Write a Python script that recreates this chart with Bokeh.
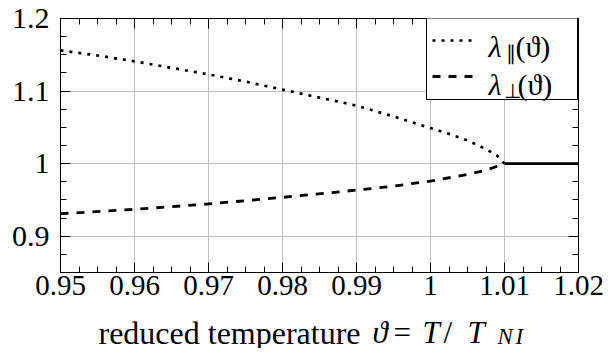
from bokeh.plotting import figure
from bokeh.layouts import column
from bokeh.models import (LinearAxis, FixedTicker, NumeralTickFormatter, Range1d,
                          Label, BoxAnnotation, Arrow)
from bokeh.core.properties import value
from bokeh.embed import file_html
from bokeh.resources import INLINE

# ---- data ----
theta_par = [0.95, 0.955, 0.96, 0.965, 0.97, 0.975, 0.98, 0.985, 0.99, 0.995,
             1.0, 1.0025, 1.005, 1.0075, 1.009, 1.01]
lam_par = [1.156, 1.149, 1.141, 1.132, 1.123, 1.113, 1.102, 1.091, 1.080, 1.065,
           1.049, 1.041, 1.032, 1.020, 1.011, 1.000]

theta_perp = [0.95, 0.96, 0.97, 0.98, 0.99, 0.995, 1.0, 1.005, 1.0075, 1.01]
lam_perp = [0.931, 0.937, 0.9445, 0.9535, 0.9635, 0.969, 0.976, 0.985, 0.991, 1.000]

theta_iso = [1.01, 1.02]
lam_iso = [1.0, 1.0]

x_major = [0.95, 0.96, 0.97, 0.98, 0.99, 1.0, 1.01, 1.02]
x_minor = [round(0.95 + 0.0025 * i, 4) for i in range(29)]
y_major = [0.9, 1.0, 1.1, 1.2]
y_minor = [round(0.85 + 0.025 * i, 3) for i in range(15)]

legend_labels = [("λ", "∥", "(ϑ)"), ("λ", "⊥", "(ϑ)")]
title_parts = ["reduced temperature", "ϑ", "=", "T", "/", "T", "N", "I"]

FONT = "Times New Roman"

p = figure(width=608, height=310, output_backend="svg", toolbar_location=None,
           x_range=Range1d(0.95, 1.02), y_range=Range1d(0.85, 1.2),
           min_border_left=60, min_border_right=30, min_border_top=18,
           min_border_bottom=38)
p.outline_line_color = "black"
p.outline_line_width = 1
p.background_fill_color = "white"
p.border_fill_color = "white"

xt = FixedTicker(ticks=x_major, minor_ticks=x_minor)
yt = FixedTicker(ticks=y_major, minor_ticks=y_minor)


def style_axis(ax, font=None, size="30px"):
    ax.axis_line_color = "black"
    ax.major_tick_line_color = "black"
    ax.minor_tick_line_color = "black"
    ax.major_tick_in = 10
    ax.major_tick_out = 0
    ax.minor_tick_in = 6
    ax.minor_tick_out = 0
    ax.axis_label = None
    if font is not None:
        ax.major_label_text_font = font
        ax.major_label_text_font_size = size
        ax.major_label_text_color = "black"
    else:
        ax.major_label_text_color = None
        ax.major_label_text_alpha = 0
        ax.major_label_text_font_size = "1px"
        ax.major_label_standoff = 0


bottom_ax = p.below[0]
left_ax = p.left[0]
bottom_ax.ticker = xt
left_ax.ticker = yt
bottom_ax.formatter = NumeralTickFormatter(format="0.[00]")
left_ax.formatter = NumeralTickFormatter(format="0.[0]")
style_axis(bottom_ax, FONT, "29px")
style_axis(left_ax, FONT, "30px")
bottom_ax.major_label_standoff = 3
left_ax.major_label_standoff = 11

top = LinearAxis(ticker=xt)
right = LinearAxis(ticker=yt)
style_axis(top)
style_axis(right)
p.add_layout(top, "above")
p.add_layout(right, "right")

p.xgrid.ticker = xt
p.ygrid.ticker = yt
for g in (p.xgrid[0], p.ygrid[0]):
    g.grid_line_color = "#bfbfbf"
    g.grid_line_width = 1

p.line(theta_par, lam_par, line_color="black", line_width=2.7,
       line_dash="3 6", line_cap="butt")
p.line(theta_perp, lam_perp, line_color="black", line_width=2.8,
       line_dash="8 8", line_cap="butt")
p.line(theta_iso, lam_iso, line_color="black", line_width=2.8)

# ---- legend (screen units relative to the frame: x from left, y from bottom) ----
p.add_layout(BoxAnnotation(left=366, right=517, bottom=173, top=258,
                           left_units="screen", right_units="screen",
                           bottom_units="screen", top_units="screen",
                           fill_color="white", fill_alpha=1.0,
                           line_color="black", line_width=1, line_alpha=1.0))
p.add_layout(Arrow(x_start=372, y_start=232, x_end=417, y_end=232,
                   start_units="screen", end_units="screen", end=None,
                   line_color="black", line_width=2.7, line_dash="3 6",
                   line_cap="butt"))
p.add_layout(Arrow(x_start=372, y_start=196, x_end=417, y_end=196,
                   start_units="screen", end_units="screen", end=None,
                   line_color="black", line_width=2.8, line_dash="8 8",
                   line_cap="butt"))


def lab(text, x, y, size="30px", style="normal"):
    p.add_layout(Label(x=x, y=y, x_units="screen", y_units="screen", text=text,
                       text_font=FONT, text_font_size=size,
                       text_font_style=style, text_color="black",
                       text_baseline="alphabetic", text_align="left"))


(l1, s1, a1), (l2, s2, a2) = legend_labels
lab(l1, 428, 226, style="italic")
lab(s1, 445, 220, size="20px")
lab(a1, 455, 226)
lab(l2, 428, 188, style="italic")
lab(s2, 443, 182, size="20px")
lab(a2, 457, 188)

# ---- x axis title as a strip below the plot (frame aligned with the plot) ----
p2 = figure(width=608, height=38, output_backend="svg", toolbar_location=None,
            x_range=Range1d(60, 578), y_range=Range1d(0, 38),
            x_axis_type=None, y_axis_type=None,
            min_border_left=60, min_border_right=30, min_border_top=0,
            min_border_bottom=0)
try:
    p2.title = None
except Exception:
    p2.title.text_font_size = "0px"
    p2.title.standoff = 0
    p2.title.offset = 0
p2.outline_line_color = None
p2.background_fill_color = "white"
p2.border_fill_color = "white"

tx = [98, 372, 393, 422, 443, 467, 497, 515]
ty = [16, 16, 16, 16, 16, 16, 12, 12]
sizes = ["32px", "31px", "31px", "31px", "31px", "31px", "23px", "23px"]
styles = ["normal", "italic", "normal", "italic", "normal", "italic", "italic", "italic"]
for t, x, y, s, st in zip(title_parts, tx, ty, sizes, styles):
    p2.text(x=[x], y=[y], text=[t], text_font=value(FONT), text_font_size=value(s),
            text_font_style=st, text_color="black", text_baseline="alphabetic",
            text_align="left")

layout = column(p, p2, spacing=0)
open("out.html", "w").write(file_html(layout, INLINE))
